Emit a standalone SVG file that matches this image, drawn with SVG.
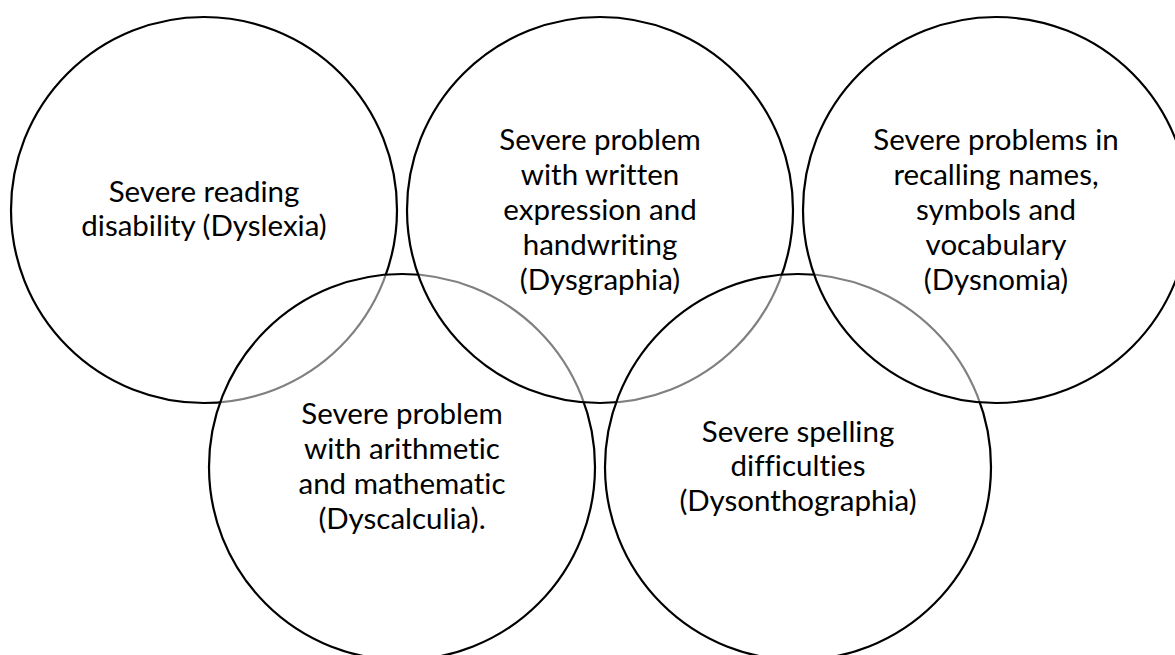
<svg xmlns="http://www.w3.org/2000/svg" width="1175" height="655" viewBox="0 0 1175 655">
  <style>
    .ring { fill: #ffffff; fill-opacity: 0.5; stroke: #000000; stroke-width: 2.2; }
    .label { font-family: "Lato", "Liberation Sans", sans-serif; font-size: 29.5px; fill: #000000; text-anchor: middle; font-variant-ligatures: none; font-feature-settings: "liga" 0; }
  </style>
  <rect width="1175" height="655" fill="#ffffff"/>
  <!-- draw order sets which outline shows through the half-white fills -->
  <g id="node-dyslexia">
    <circle class="ring" cx="204" cy="210" r="193"/>
    <text class="label" x="204" y="202">Severe reading</text>
    <text class="label" x="204" y="236">disability (Dyslexia)</text>
  </g>
  <g id="node-dyscalculia">
    <circle class="ring" cx="402" cy="467" r="193"/>
    <text class="label" x="402" y="424">Severe problem</text>
    <text class="label" x="402" y="459">with arithmetic</text>
    <text class="label" x="402" y="494">and mathematic</text>
    <text class="label" x="402" y="529">(Dyscalculia).</text>
  </g>
  <g id="node-dysgraphia">
    <circle class="ring" cx="600" cy="210" r="193"/>
    <text class="label" x="600" y="150">Severe problem</text>
    <text class="label" x="600" y="185">with written</text>
    <text class="label" x="600" y="220">expression and</text>
    <text class="label" x="600" y="255">handwriting</text>
    <text class="label" x="600" y="290">(Dysgraphia)</text>
  </g>
  <g id="node-dysonthographia">
    <circle class="ring" cx="798" cy="467" r="193"/>
    <text class="label" x="798" y="442">Severe spelling</text>
    <text class="label" x="798" y="476">difficulties</text>
    <text class="label" x="798" y="511">(Dysonthographia)</text>
  </g>
  <g id="node-dysnomia">
    <circle class="ring" cx="996" cy="210" r="193"/>
    <text class="label" x="996" y="150">Severe problems in</text>
    <text class="label" x="996" y="185">recalling names,</text>
    <text class="label" x="996" y="220">symbols and</text>
    <text class="label" x="996" y="255">vocabulary</text>
    <text class="label" x="996" y="290">(Dysnomia)</text>
  </g>
  <g id="connectors"/>
</svg>
